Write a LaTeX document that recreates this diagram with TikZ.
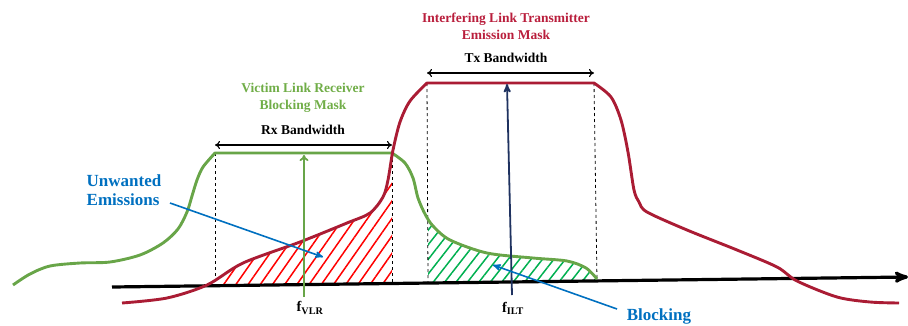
\documentclass[tikz,border=0pt]{standalone}
\usepackage{fontspec}
\setmainfont{Liberation Serif}
\usepackage{tikz}
\usetikzlibrary{arrows.meta,arrows}
\usetikzlibrary{patterns.meta}
\definecolor{maskgreen}{RGB}{104,165,72}
\definecolor{textgreen}{RGB}{112,173,71}
\definecolor{maskred}{RGB}{170,28,52}
\definecolor{textred}{RGB}{185,30,60}
\definecolor{hatchgreen}{RGB}{0,176,80}
\definecolor{noteblue}{RGB}{0,112,192}
\definecolor{freqnavy}{RGB}{31,50,96}

\begin{document}
\begin{tikzpicture}[>=stealth',x=1pt,y=-1pt,semithick]
 \tikzstyle{mask label}=[font=\bfseries\fontsize{13.5}{17}\selectfont,align=center,inner sep=1]
 \tikzstyle{bw label}=[font=\bfseries\fontsize{13.5}{17}\selectfont,inner sep=1]
 \tikzstyle{note label}=[font=\bfseries\fontsize{17}{19}\selectfont,text=noteblue,align=left,inner sep=1]
 \tikzstyle{freq label}=[font=\bfseries\fontsize{14.5}{16}\selectfont,inner sep=1]
 \tikzset{
 	rx mask/.style={draw=maskgreen,line width=2.9pt,line join=round},
 	tx mask/.style={draw=maskred,line width=2.9pt,line join=round},
 	band edge/.style={dashed,draw=black,line width=0.8pt},
 	bw arrow/.style={{To[length=5pt,width=8pt]}-{To[length=5pt,width=8pt]},draw=black,line width=1.1pt},
 	note arrow/.style={->,draw=noteblue,line width=1.6pt},
 	red hatch/.style={pattern={Lines[angle=55,distance=10pt,line width=1.5pt]},pattern color=red},
 	green hatch/.style={pattern={Lines[angle=52,distance=9pt,line width=1.5pt]},pattern color=hatchgreen}
 }

 \useasboundingbox (0,0) rectangle (908,325);

       % corners of the two masks
       \coordinate (rxl) at (215,153);
       \coordinate (rxr) at (392,153);
       \coordinate (txl) at (427,83);
       \coordinate (txr) at (594,83);

       % frequency axis
       \coordinate (ax0) at (112,287);
       \coordinate (ax1) at (908,277);
       \coordinate (rxlb) at (215,285.7);
       \coordinate (rxrb) at (392,283.5);
       \coordinate (txlb) at (428,283);
       \coordinate (txrb) at (597,280.9);

       \coordinate (rxal) at (215,145);
       \coordinate (rxar) at (392,145);
       \coordinate (txal) at (427,73);
       \coordinate (txar) at (594,73);

       \coordinate (vlrb) at (304,297);
       \coordinate (vlrt) at (304,155);
       \coordinate (iltb) at (512,295);
       \coordinate (iltt) at (507,84);

       \node[mask label,text=textred] (iltm) at (506,26) {Interfering Link Transmitter\\Emission Mask};
       \node[mask label,text=textgreen] (vlrm) at (303,98) {Victim Link Receiver\\Blocking Mask};
       \node[bw label] (rxbw) at (303,130) {Rx Bandwidth};
       \node[bw label] (txbw) at (506,58) {Tx Bandwidth};
       \node[note label] (uwe) at (124,190) {Unwanted\\Emissions};
       \node[note label] (blk) at (659,316) {Blocking};
       \node[freq label] (fvlr) at (310,308) {f\textsubscript{VLR}};
       \node[freq label] (filt) at (513,308) {f\textsubscript{ILT}};

       \coordinate (uwes) at (170,203);
       \coordinate (uwet) at (323,257);
       \coordinate (blks) at (617,309);
       \coordinate (blkt) at (493,265);

     % hatched overlap areas
     \begin{scope}
       \clip (rxl |- 0,0) -- (rxr |- 0,0) -- (rxrb) -- (rxlb) -- cycle;
       \fill[red hatch] plot[smooth] coordinates {(122,303) (167,298) (207,285) (243,263) (300,242) (347,223) (370,213) (383,197) (388,180) (393,150) (400,122) (410,101) (427,83)} -- (427,330) -- (122,330) -- cycle;
     \end{scope}
     \begin{scope}
       \clip (txlb |- 0,0) -- (txrb |- 0,0) -- (txrb) -- (txlb) -- cycle;
       \fill[green hatch] plot[smooth] coordinates {(392,153) (405,163) (413,178) (418,198) (425,214) (433,226) (450,240) (487,253) (533,258) (567,261) (586,268) (597,279)} -- (597,330) -- (392,330) -- cycle;
     \end{scope}

     \draw[band edge] (rxl) -- (rxlb);
     \draw[band edge] (rxr) -- (rxrb);
     \draw[band edge] (txl) -- (txlb);
     \draw[band edge] (txr) -- (txrb);

     \draw[->,line width=3.2pt] (ax0) -- (ax1);

     % victim receiver mask
     \draw[rx mask] plot[smooth] coordinates {(13,285) (30,274) (50,266) (80,263) (110,262) (140,255) (163,243) (178,229) (187,212) (192,196) (197,180) (203,167) (215,153)}
       -- (rxr) -- plot[smooth] coordinates {(392,153) (405,163) (413,178) (418,198) (425,214) (433,226) (450,240) (487,253) (533,258) (567,261) (586,268) (597,279)};

     % interfering transmitter mask
     \draw[tx mask] plot[smooth] coordinates {(122,303) (167,298) (207,285) (243,263) (300,242) (347,223) (370,213) (383,197) (388,180) (393,150) (400,122) (410,101) (427,83)}
       -- (txr) -- plot[smooth] coordinates {(594,83) (611,97) (621,120) (628,152) (634,190) (639,202) (647,212) (687,230) (737,250) (777,267) (797,281) (837,297) (870,302) (899,303)};

     \draw[bw arrow] (rxal) -- (rxar);
     \draw[bw arrow] (txal) -- (txar);

     \draw[-{To[length=6pt,width=9pt]},draw=maskgreen,line width=1.8pt] (vlrb) -- (vlrt);
     \draw[->,draw=freqnavy,line width=1.8pt] (iltb) -- (iltt);

     \draw[note arrow] (uwes) -- (uwet);
     \draw[note arrow] (blks) -- (blkt);

 \end{tikzpicture}
\end{document}
